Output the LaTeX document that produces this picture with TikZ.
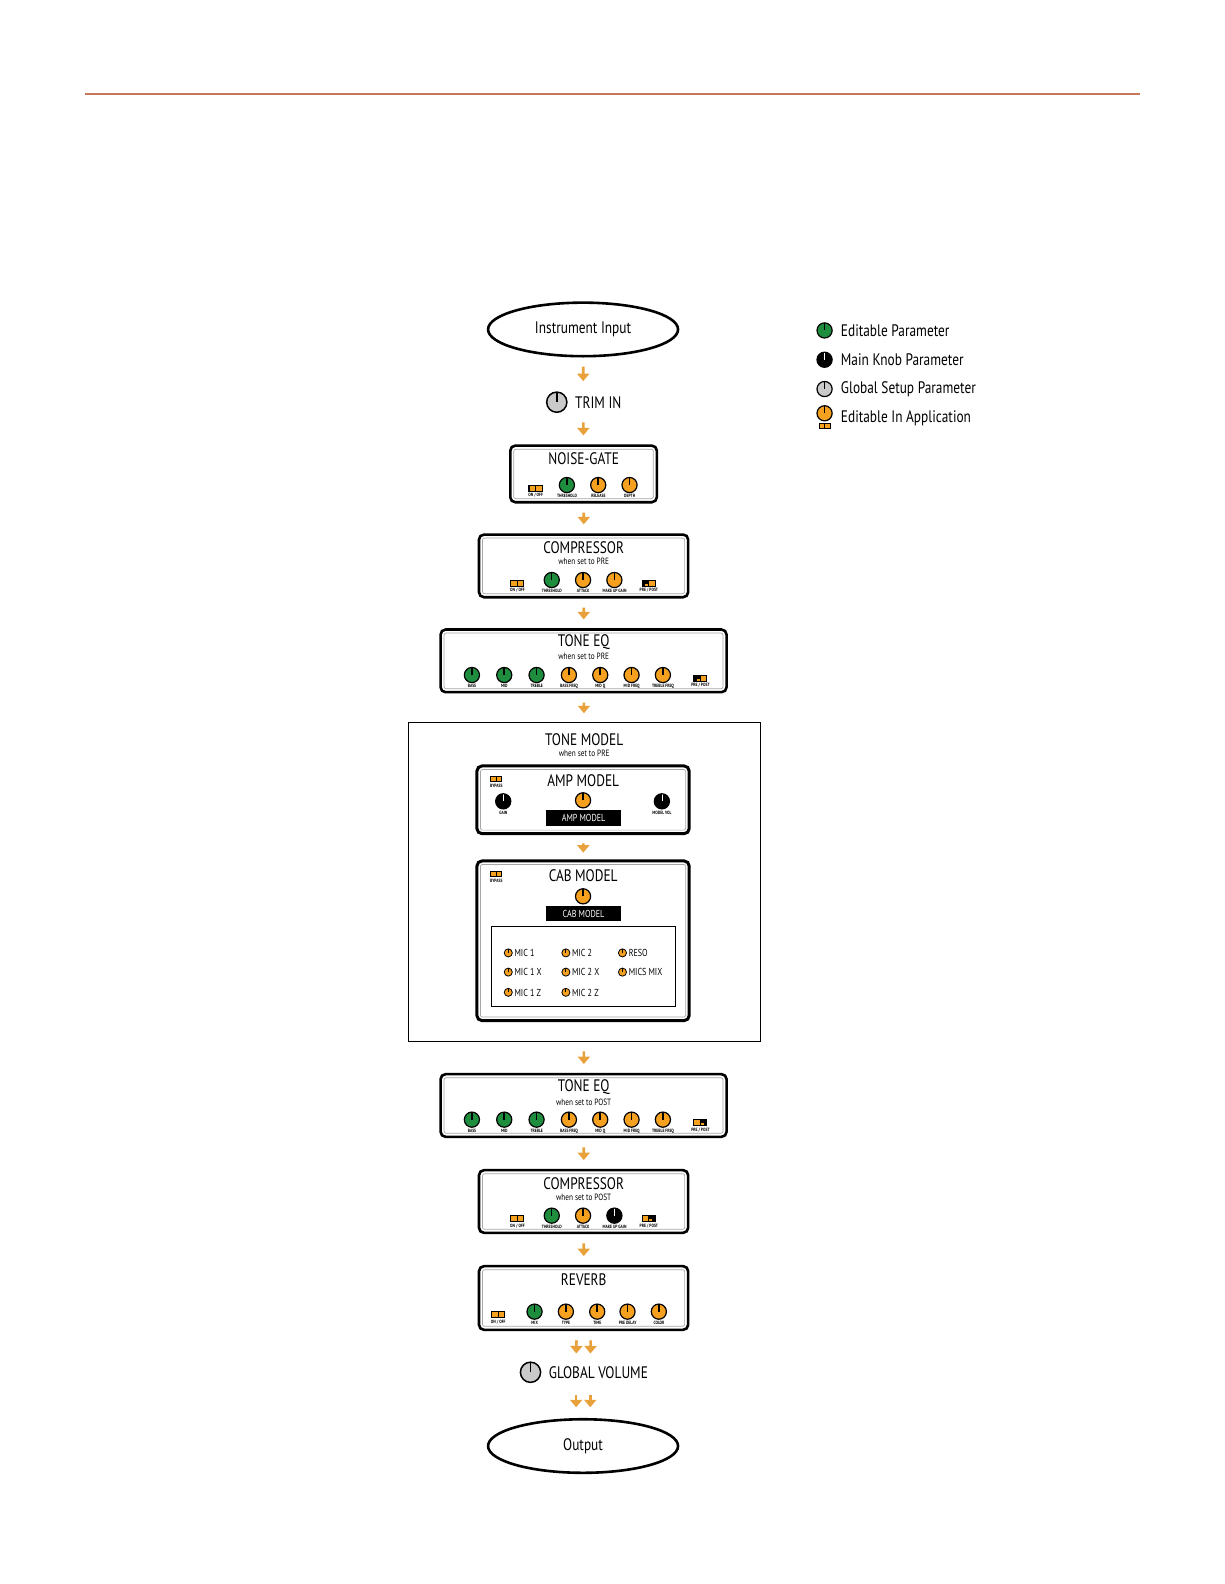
\documentclass[tikz,border=0pt]{standalone}
\usepackage{fontspec}
\setmainfont{PT Sans}[FakeStretch=0.8]
\usetikzlibrary{shapes.geometric,arrows.meta,positioning}

\definecolor{knobgreen}{HTML}{1E8E3E}
\definecolor{knoborange}{HTML}{F5A01E}
\definecolor{knobgrey}{HTML}{CACACA}
\definecolor{floworange}{HTML}{E9A23B}
\definecolor{rulebrown}{HTML}{C8785A}

\tikzset{
  knob/.style={circle, draw, line width=1.2pt, fill=#1, minimum size=15pt, inner sep=0pt,
    path picture={\draw[line width=1.5pt] (path picture bounding box.center) -- (path picture bounding box.north);}},
  mainknob/.style={knob=black,
    path picture={\draw[white, line width=0.7pt] (path picture bounding box.center) -- (path picture bounding box.north);}},
  bigknob/.style={knob=knobgrey, minimum size=20pt, line width=1.5pt},
  miniknob/.style={knob=knoborange, minimum size=8pt, line width=0.8pt,
    path picture={\draw[line width=0.9pt] (path picture bounding box.center) -- (path picture bounding box.north);}},
  switch/.style={rectangle, fill=black, minimum width=14pt, minimum height=7pt, inner sep=0pt,
    path picture={
      \fill[knoborange] ([shift={(1pt,1pt)}]path picture bounding box.south west) rectangle ([shift={(-0.6pt,-1pt)}]path picture bounding box.north);
      \fill[knoborange] ([shift={(0.6pt,1pt)}]path picture bounding box.south) rectangle ([shift={(-1pt,-1pt)}]path picture bounding box.north east);}},
  swpre/.style={switch,
    path picture={
      \fill[knoborange] ([shift={(3.5pt,1pt)}]path picture bounding box.south west) rectangle ([shift={(-0.6pt,-4pt)}]path picture bounding box.north);
      \fill[knoborange] ([shift={(0.6pt,1pt)}]path picture bounding box.south) rectangle ([shift={(-1pt,-1pt)}]path picture bounding box.north east);}},
  swpost/.style={switch,
    path picture={
      \fill[knoborange] ([shift={(1pt,1pt)}]path picture bounding box.south west) rectangle ([shift={(-0.6pt,-1pt)}]path picture bounding box.north);
      \fill[knoborange] ([shift={(0.6pt,1pt)}]path picture bounding box.south) rectangle ([shift={(-3.5pt,-4pt)}]path picture bounding box.north east);}},
  smallswitch/.style={switch, minimum width=12pt, minimum height=6pt},
  lbl/.style={font=\fontsize{4.6}{5}\selectfont\bfseries, inner sep=1pt},
  box/.style={rectangle, rounded corners=5pt, draw, line width=2.6pt, fill=white, inner sep=0pt,
    path picture={\draw[black!35, line width=0.7pt, rounded corners=2pt]
      ([shift={(3.5pt,-3.5pt)}]path picture bounding box.north west) rectangle
      ([shift={(-3.5pt,3.5pt)}]path picture bounding box.south east);}},
  io/.style={draw, ellipse, line width=2.6pt, minimum width=188pt, minimum height=53pt,
    font=\fontsize{16.5}{17}\selectfont},
  title/.style={font=\fontsize{16.5}{17}\selectfont, inner sep=0pt},
  subtitle/.style={font=\fontsize{9}{9}\selectfont, inner sep=0pt},
  bar/.style={fill=black, text=white, minimum width=75pt, minimum height=15pt, inner sep=0pt,
    font=\fontsize{10}{10}\selectfont},
  mic/.style={font=\fontsize{10}{10}\selectfont, inner sep=1.5pt},
  legend/.style={anchor=west, font=\fontsize{16.5}{17}\selectfont, inner sep=0pt},
  flow/.style={floworange, line width=2.6pt, -{Triangle[width=12pt,length=7.5pt]},
    shorten <=9pt, shorten >=9pt},
}

\begin{document}
\begin{tikzpicture}[x=1pt,y=-1pt]
		\useasboundingbox (0pt,0pt) rectangle (1224pt,-1584pt);
		\begin{scope}[scale=1.0105, transform shape]
		\draw[rulebrown, line width=1.2pt] (84,93) -- (1128,93);
		
		% legend
		\node[knob=knobgreen] (lgreen) at (816,327) {};
		\node[mainknob] (lblack) at (816,356) {};
		\node[knob=knobgrey] (lgrey) at (816,385) {};
		\node[knob=knoborange] (lorange) at (816,409) {};
		\node[smallswitch] (lswitch) at (816,421.5) {};
		\node[legend] at (832,327) {Editable Parameter};
		\node[legend] at (832,356) {Main Knob Parameter};
		\node[legend] at (832,385) {Global Setup Parameter};
		\node[legend] at (832,414) {Editable In Application};
		
		% input and trim
		\node[io] (input) at (577,326) {Instrument Input};
		\node[bigknob] (trimknob) at (551,398) {};
		\node[title, anchor=west] (trim) at (569,398) {TRIM IN};
		\coordinate (trimtop) at (577,388);
		\coordinate (trimbot) at (577,408);
		
		% noise gate
		\node[box, minimum width=145pt, minimum height=56pt] (gate) at (577.5,469) {};
		\node[title] at ([yshift=-14pt]gate.north) {NOISE-GATE};
		\node[switch, label={[lbl]below:ON / OFF}] (gonoff) at (530,483) {};
		\node[knob=knobgreen, label={[lbl]below:THRESHOLD}] (gthr) at (561,480) {};
		\node[knob=knoborange, label={[lbl]below:RELEASE}] (grel) at (592,480) {};
		\node[knob=knoborange, label={[lbl]below:DEPTH}] (gdep) at (623,480) {};
		
		% compressor pre
		\node[box, minimum width=207pt, minimum height=62pt] (comp) at (577.5,560) {};
		\node[title] at ([yshift=-14pt]comp.north) {COMPRESSOR};
		\node[subtitle] at ([yshift=-28pt]comp.north) {when set to PRE};
		\node[switch, label={[lbl]below:ON / OFF}] (conoff) at (512,577) {};
		\node[knob=knobgreen, label={[lbl]below:THRESHOLD}] (cthr) at (546,574) {};
		\node[knob=knoborange, label={[lbl]below:ATTACK}] (catt) at (577,574) {};
		\node[knob=knoborange, label={[lbl]below:MAKE UP GAIN}] (cgain) at (608,574) {};
		\node[swpre, label={[lbl]below:PRE / POST}] (cpre) at (642,577) {};
		
		% tone eq pre
		\node[box, minimum width=283pt, minimum height=62pt] (eqpre) at (577.5,654) {};
		\node[title] at ([yshift=-14pt]eqpre.north) {TONE EQ};
		\node[subtitle] at ([yshift=-28pt]eqpre.north) {when set to PRE};
		\node[knob=knobgreen, label={[lbl]below:BASS}] (ebass) at (467,668) {};
		\node[knob=knobgreen, label={[lbl]below:MID}] (emid) at (499,668) {};
		\node[knob=knobgreen, label={[lbl]below:TREBLE}] (etreb) at (531,668) {};
		\node[knob=knoborange, label={[lbl]below:BASS FREQ}] (ebf) at (563,668) {};
		\node[knob=knoborange, label={[lbl]below:MID Q}] (emq) at (594,668) {};
		\node[knob=knoborange, label={[lbl]below:MID FREQ}] (emf) at (625,668) {};
		\node[knob=knoborange, label={[lbl]below:TREBLE FREQ}] (etf) at (656,668) {};
		\node[swpre, label={[lbl]below:PRE / POST}] (epre) at (693,671) {};
		
		% tone model
		\node[draw, line width=0.8pt, minimum width=348pt, minimum height=316pt] (tonemodel) at (578,873) {};
		\node[title] at ([yshift=-17pt]tonemodel.north) {TONE MODEL};
		\node[subtitle] at ([yshift=-31pt]tonemodel.north) {when set to PRE};
		
		\node[box, line width=3pt, minimum width=210pt, minimum height=67pt] (amp) at (577,791.5) {};
		\node[title] at ([yshift=-16pt]amp.north) {AMP MODEL};
		\node[smallswitch, label={[lbl]below:BYPASS}] (abyp) at (491,771) {};
		\node[mainknob, label={[lbl]below:GAIN}] (again) at (498,793) {};
		\node[knob=knoborange] (amodel) at (577,792) {};
		\node[bar] (abar) at (577.5,809.5) {AMP MODEL};
		\node[mainknob, label={[lbl]below:MODEL VOL}] (avol) at (655,793) {};
		
		\node[box, line width=3pt, minimum width=210pt, minimum height=158pt] (cab) at (577,931) {};
		\node[title] at ([yshift=-16pt]cab.north) {CAB MODEL};
		\node[smallswitch, label={[lbl]below:BYPASS}] (cbyp) at (491,865) {};
		\node[knob=knoborange] (cmodel) at (577,887) {};
		\node[bar] (cbar) at (577.5,904) {CAB MODEL};
		\node[draw, line width=0.9pt, minimum width=182pt, minimum height=79pt] (mics) at (577,956.5) {};
		\node[miniknob, label={[mic]right:MIC 1}] (mic1) at (503,943) {};
		\node[miniknob, label={[mic]right:MIC 1 X}] (mic1x) at (503,962) {};
		\node[miniknob, label={[mic]right:MIC 1 Z}] (mic1z) at (503,982) {};
		\node[miniknob, label={[mic]right:MIC 2}] (mic2) at (560,943) {};
		\node[miniknob, label={[mic]right:MIC 2 X}] (mic2x) at (560,962) {};
		\node[miniknob, label={[mic]right:MIC 2 Z}] (mic2z) at (560,982) {};
		\node[miniknob, label={[mic]right:RESO}] (reso) at (616,943) {};
		\node[miniknob, label={[mic]right:MICS MIX}] (micsmix) at (616,962) {};
		
		% tone eq post
		\node[box, minimum width=283pt, minimum height=62pt] (eqpost) at (577.5,1094) {};
		\node[title] at ([yshift=-14pt]eqpost.north) {TONE EQ};
		\node[subtitle] at ([yshift=-29pt]eqpost.north) {when set to POST};
		\node[knob=knobgreen, label={[lbl]below:BASS}] (pbass) at (467,1108) {};
		\node[knob=knobgreen, label={[lbl]below:MID}] (pmid) at (499,1108) {};
		\node[knob=knobgreen, label={[lbl]below:TREBLE}] (ptreb) at (531,1108) {};
		\node[knob=knoborange, label={[lbl]below:BASS FREQ}] (pbf) at (563,1108) {};
		\node[knob=knoborange, label={[lbl]below:MID Q}] (pmq) at (594,1108) {};
		\node[knob=knoborange, label={[lbl]below:MID FREQ}] (pmf) at (625,1108) {};
		\node[knob=knoborange, label={[lbl]below:TREBLE FREQ}] (ptf) at (656,1108) {};
		\node[swpost, label={[lbl]below:PRE / POST}] (ppost) at (693,1111) {};
		
		% compressor post
		\node[box, minimum width=207pt, minimum height=62pt] (comppost) at (577.5,1189) {};
		\node[title] at ([yshift=-14pt]comppost.north) {COMPRESSOR};
		\node[subtitle] at ([yshift=-28pt]comppost.north) {when set to POST};
		\node[switch, label={[lbl]below:ON / OFF}] (qonoff) at (512,1206) {};
		\node[knob=knobgreen, label={[lbl]below:THRESHOLD}] (qthr) at (546,1203) {};
		\node[knob=knoborange, label={[lbl]below:ATTACK}] (qatt) at (577,1203) {};
		\node[mainknob, label={[lbl]below:MAKE UP GAIN}] (qgain) at (608,1203) {};
		\node[swpost, label={[lbl]below:PRE / POST}] (qpost) at (642,1206) {};
		
		% reverb
		\node[box, minimum width=207pt, minimum height=63pt] (reverb) at (577.5,1284.5) {};
		\node[title] at ([yshift=-14pt]reverb.north) {REVERB};
		\node[switch, label={[lbl]below:ON / OFF}] (ronoff) at (493,1301) {};
		\node[knob=knobgreen, label={[lbl]below:MIX}] (rmix) at (529,1298) {};
		\node[knob=knoborange, label={[lbl]below:TYPE}] (rtype) at (560,1298) {};
		\node[knob=knoborange, label={[lbl]below:TIME}] (rtime) at (591,1298) {};
		\node[knob=knoborange, label={[lbl]below:PRE DELAY}] (rpre) at (621,1298) {};
		\node[knob=knoborange, label={[lbl]below:COLOR}] (rcol) at (652,1298) {};
		
		% global volume and output
		\node[bigknob] (gvknob) at (525,1358) {};
		\node[title, anchor=west] (gv) at (543,1358) {GLOBAL VOLUME};
		\coordinate (gvtop) at (577,1348);
		\coordinate (gvbot) at (577,1370);
		\node[io] (output) at (577,1431) {Output};
		
		
		\draw[flow, shorten >=11pt] (input) -- (trimtop);
		\draw[flow, shorten <=10pt] (trimbot) -- (gate);
		\draw[flow] (gate) -- (comp);
		\draw[flow] (comp) -- (eqpre);
		\draw[flow] (eqpre) -- (tonemodel);
		\draw[flow, shorten <=8pt, shorten >=7pt] (amp) -- (cab);
		\draw[flow] (tonemodel) -- (eqpost);
		\draw[flow] (eqpost) -- (comppost);
		\draw[flow] (comppost) -- (reverb);
		\draw[flow] ([xshift=-7pt]reverb.south) -- ([xshift=-7pt]gvtop);
		\draw[flow] ([xshift=7pt]reverb.south) -- ([xshift=7pt]gvtop);
		\draw[flow, shorten <=10pt, shorten >=11pt] ([xshift=-7pt]gvbot) -- ([xshift=-7pt]output.north);
		\draw[flow, shorten <=10pt, shorten >=11pt] ([xshift=7pt]gvbot) -- ([xshift=7pt]output.north);
		\end{scope}
		\end{tikzpicture}
\end{document}
